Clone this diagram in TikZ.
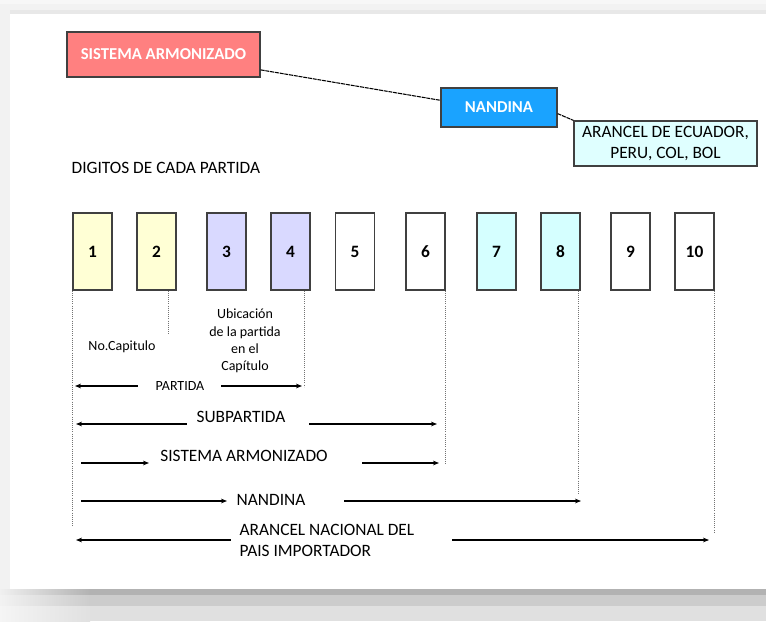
\documentclass[tikz,border=0pt]{standalone}
\usepackage{fontspec}
\setmainfont{Carlito}
\usetikzlibrary{arrows.meta}
\definecolor{sared}{RGB}{255,128,128}
\definecolor{nanblue}{RGB}{26,163,255}
\definecolor{aranbg}{RGB}{223,255,255}
\definecolor{digyel}{RGB}{255,255,213}
\definecolor{diglav}{RGB}{217,217,255}
\definecolor{digcya}{RGB}{213,255,255}
\definecolor{boxline}{RGB}{64,64,64}
\definecolor{labelbg}{RGB}{250,255,255}
\tikzset{
  topbox/.style={draw=boxline, line width=1pt, inner sep=0pt,
    font=\fontsize{12.5}{14}\selectfont\bfseries, text=white},
  digitbox/.style={draw=boxline, line width=1pt, inner sep=0pt,
    minimum width=29.25pt, minimum height=57.75pt,
    font=\fontsize{13}{15}\selectfont\bfseries},
  guide/.style={densely dotted, line width=0.6pt, black!55},
  link/.style={dash pattern=on 3pt off 0.6pt, line width=0.8pt, black},
  dimr/.style={line width=0.9pt, black, -{Stealth[length=4.5pt,width=3.5pt]}},
  diml/.style={line width=0.9pt, black, {Stealth[length=4.5pt,width=3.5pt]}-},
  lbl/.style={font=\fontsize{13}{15.75}\selectfont, inner sep=1pt},
  smalllbl/.style={font=\fontsize{10.5}{13}\selectfont, inner sep=1pt, align=center}
}
\begin{document}
\begin{tikzpicture}[x=0.75pt,y=-0.75pt]
\useasboundingbox (0,0) rectangle (766,621);
% page and shadow
\fill[black!5] (0,0) rectangle (766,621);
\fill[black!3] (0,0) rectangle (766,4);
\fill[black!9] (10,10) rectangle (766,14);
\shade[left color=black!6, right color=black!30] (0,589) rectangle (90,595);
\fill[black!30] (90,589) rectangle (766,595);
\shade[left color=black!5, right color=black!20] (0,595) rectangle (90,606);
\fill[black!20] (90,595) rectangle (766,606);
\shade[left color=black!4, right color=black!12] (0,606) rectangle (90,621);
\fill[black!12] (90,606) rectangle (766,621);
\fill[white] (10,14) rectangle (766,589);

% top boxes
\node[topbox, fill=sared, minimum width=144.75pt, minimum height=33.75pt] (sa) at (163.5,54.5) {SISTEMA ARMONIZADO};
\node[topbox, fill=nanblue, minimum width=87pt, minimum height=29.25pt] (nan) at (499,107.5) {NANDINA};
\node[topbox, fill=aranbg, text=black, align=center, minimum width=137.25pt, minimum height=33.75pt,
  font=\fontsize{13}{15.75}\selectfont] (aran) at (665.5,143.5) {ARANCEL DE ECUADOR,\\PERU, COL, BOL};
\draw[link] (sa.-9) -- (nan.173);
\draw[link] (nan.-6) -- (aran.north west);

\node[lbl, anchor=west] (digitos) at (70,168) {DIGITOS DE CADA PARTIDA};

% digit boxes
\foreach \n/\x/\c in {1/92.5/digyel, 2/156.5/digyel, 3/226.5/diglav, 4/290.5/diglav,
    5/355/white, 6/425.5/white, 7/496.5/digcya, 8/560.5/digcya, 9/630.5/white, 10/694.5/white}
  \node[digitbox, fill=\c] (d\n) at (\x,251.5) {\n};

% guide lines
\draw[guide] (d1.south west) -- ++(0,236);
\draw[guide] ([xshift=-6pt]d2.south east) -- ++(0,43);
\draw[guide] ([xshift=-4.5pt]d4.south east) -- ++(0,96);
\draw[guide] (d6.south east) -- ++(0,173);
\draw[guide] ([xshift=-1.5pt]d8.south east) -- ++(0,203);
\draw[guide] (d10.south east) -- ++(0,243);

\node[smalllbl] (capitulo) at (122,347) {No.Capitulo};
\node[smalllbl] (ubicacion) at (245,341) {Ubicación\\de la partida\\en el\\Capítulo};

% ranges
\coordinate (pa1) at (75,386); \coordinate (pa2) at (138,386);
\coordinate (pa3) at (221,386); \coordinate (pa4) at (302,386);
\draw[diml] (pa1) -- (pa2);
\draw[dimr] (pa3) -- (pa4);
\node[smalllbl] (partida) at (180,386) {PARTIDA};

\coordinate (sp1) at (76,424); \coordinate (sp2) at (187,424);
\coordinate (sp3) at (309,424); \coordinate (sp4) at (437,424);
\draw[diml] (sp1) -- (sp2);
\draw[dimr] (sp3) -- (sp4);
\node[lbl] (subpartida) at (241,417) {SUBPARTIDA};

\coordinate (sa1) at (81,463); \coordinate (sa2) at (149,463);
\coordinate (sa3) at (362,463); \coordinate (sa4) at (439,463);
\draw[dimr] (sa1) -- (sa2);
\draw[dimr] (sa3) -- (sa4);
\node[lbl] (sistema) at (244,456) {SISTEMA ARMONIZADO};

\coordinate (na1) at (81,501); \coordinate (na2) at (227,501);
\coordinate (na3) at (344,501); \coordinate (na4) at (581,501);
\draw[dimr] (na1) -- (na2);
\draw[dimr] (na3) -- (na4);
\node[lbl] (nandina) at (271,500) {NANDINA};

\coordinate (ar1) at (76,540); \coordinate (ar2) at (231,540);
\coordinate (ar3) at (452,540); \coordinate (ar4) at (709,540);
\draw[diml] (ar1) -- (ar2);
\draw[dimr] (ar3) -- (ar4);
\node[lbl, anchor=west, align=left] (arancel) at (238,540) {ARANCEL NACIONAL DEL\\PAIS IMPORTADOR};
\end{tikzpicture}
\end{document}
